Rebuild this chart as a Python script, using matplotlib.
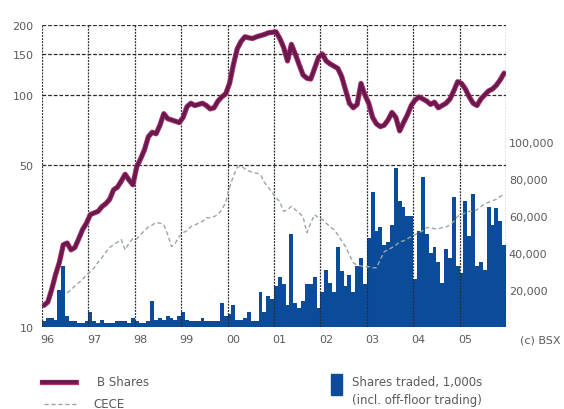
import matplotlib
matplotlib.use("Agg")
import matplotlib.pyplot as plt
import matplotlib.patheffects as pe
from matplotlib.lines import Line2D
from matplotlib.patches import Rectangle
import numpy as np

# monthly data, Jan 1996 .. Dec 2005
b_shares = [
    12.4, 12.8, 14.5, 16.8, 19.0, 22.6, 23.0, 21.5, 22.0, 24.0, 26.3, 28.0,
    30.5, 31.0, 31.5, 33.0, 34.0, 35.5, 39.0, 40.0, 42.5, 45.5, 43.0, 41.0,
    49, 53, 58, 66, 69, 68, 74, 83, 79, 78, 77, 76,
    80, 89, 92, 90, 91, 92, 90, 87, 88, 94, 98, 101,
    112, 135, 158, 170, 178, 176, 175, 178, 180, 182, 185, 186,
    187, 175, 160, 140, 165, 150, 135, 122, 118, 117, 130, 145,
    150, 140, 136, 133, 130, 120, 105, 92, 88, 91, 112, 100,
    92, 80, 75, 73, 74, 78, 84, 80, 70, 76, 82, 90,
    95, 98, 96, 94, 91, 93, 88, 90, 92, 96, 104, 114,
    112, 106, 98, 92, 90, 96, 100, 104, 106, 110, 116, 124,
]

# index series starts in July 1996
index_start = 6
index_vals = [
    14.0, 14.5, 15.0, 15.5, 16.0, 16.8,
    17.3, 18.0, 19.0, 19.9, 21.0, 22.0, 22.6, 23.2, 23.8, 21.5, 23.0, 24.0,
    24.0, 25.0, 26.0, 27.0, 27.5, 28.2, 28.0, 27.6, 25.0, 22.2, 23.0, 24.5,
    25.5, 26.0, 27.1, 27.5, 28.0, 28.5, 29.6, 29.5, 29.9, 30.5, 32.0, 34.4,
    40.0, 44.6, 48.8, 49.3, 48.0, 47.0, 46.3, 46.0, 45.4, 42.0, 40.0, 38.0,
    36.0, 34.7, 31.5, 32.0, 33.1, 32.0, 31.0, 29.9, 25.5, 28.0, 30.5, 29.5,
    29.1, 28.0, 27.0, 26.3, 25.0, 23.5, 22.2, 20.5, 18.9, 18.5, 18.3, 18.2,
    18.2, 18.0, 18.0, 19.5, 21.1, 21.5, 22.0, 22.5, 23.3, 23.5, 24.0, 24.5,
    25.0, 25.5, 26.0, 26.8, 26.8, 26.5, 26.5, 26.8, 27.0, 27.5, 28.5, 30.0,
    30.5, 31.0, 31.5, 31.5, 32.0, 33.0, 34.0, 34.4, 35.0, 35.5, 36.5, 37.3,
]

# shares traded, thousands
traded = [
    3, 5, 5, 4, 20, 33, 6, 3, 3, 2, 2, 3,
    8, 3, 2, 4, 2, 2, 2, 3, 3, 3, 2, 5,
    3, 2, 2, 3, 14, 4, 5, 4, 6, 5, 4, 6,
    8, 4, 3, 3, 3, 5, 3, 3, 3, 3, 13, 6,
    7, 12, 4, 4, 5, 8, 3, 3, 19, 8, 17, 15,
    22, 27, 23, 12, 50, 13, 10, 14, 23, 23, 27, 10,
    19, 31, 24, 19, 43, 30, 22, 28, 19, 33, 37, 23,
    48, 73, 52, 54, 44, 46, 55, 86, 68, 65, 60, 60,
    26, 52, 81, 50, 40, 43, 35, 24, 42, 37, 70, 33,
    29, 68, 49, 72, 33, 35, 31, 65, 55, 64, 57, 44,
]

year_labels = ["96", "97", "98", "99", "00", "01", "02", "03", "04", "05"]
left_ticks = [10, 50, 100, 150, 200]
right_ticks = [20000, 40000, 60000, 80000, 100000]

TEXT = "#5a5a5a"
LINE = "#6a1850"
EDGE = "#b0386a"
BAR = "#0b4c9a"
W, H = 564, 410

fig = plt.figure(figsize=(W / 100, H / 100), dpi=100)
ax = fig.add_axes([42 / W, 1 - 328 / H, 464 / W, 302 / H])
ax2 = ax.twinx()
ax.set_zorder(ax2.get_zorder() + 1)
ax.patch.set_visible(False)

months = 1996 + (np.arange(len(b_shares)) + 0.5) / 12

ax2.bar(months, np.array(traded) * 1000, width=1 / 12, color=BAR,
        edgecolor="none", align="center")
ax2.set_ylim(0, 163000)
ax2.set_yticks(right_ticks)
ax2.set_yticklabels([f"{v:,}" for v in right_ticks])

ax.plot(months[index_start:], index_vals, color="#9aa6a6", lw=1.0,
        ls=(0, (3, 2)))
ax.plot(months, b_shares, color=LINE, lw=2.6, solid_capstyle="round",
        path_effects=[pe.Stroke(linewidth=3.8, foreground=EDGE), pe.Normal()])

ax.set_yscale("log")
ax.set_ylim(10, 200)
ax.set_xlim(1996, 2006)
ax.set_yticks(left_ticks)
ax.set_yticklabels([str(v) for v in left_ticks])
ax.yaxis.set_minor_locator(matplotlib.ticker.NullLocator())
ax.set_xticks([])

# grid
for yr in range(1996, 2007):
    ax.axvline(yr, color="#2a2a2a", lw=0.9, ls=(0, (1.5, 1)), zorder=1)
for v in [50, 100, 150, 200]:
    ax.axhline(v, color="#2a2a2a", lw=0.9, ls=(0, (3, 1.5)), zorder=1)

for a in (ax, ax2):
    for s in a.spines.values():
        s.set_visible(False)
ax.tick_params(axis="y", length=0, pad=6, labelsize=8, labelcolor=TEXT)
ax2.tick_params(axis="y", length=0, pad=2, labelsize=8, labelcolor=TEXT)

for i, lab in enumerate(year_labels):
    ax.text(1996 + i + 0.12, -0.04, lab, transform=ax.get_xaxis_transform(),
            ha="center", va="center", fontsize=8, color=TEXT)
ax.text(1.03, -0.04, "(c) BSX", transform=ax.transAxes, ha="left", va="center",
        fontsize=8, color=TEXT)


# legend below the chart
def px(x, y):
    return x / W, 1 - y / H


x0, y0 = px(42, 383)
x1, _ = px(76, 383)
fig.add_artist(Line2D([x0, x1], [y0, y0], color=LINE, lw=2.6,
                      path_effects=[pe.Stroke(linewidth=3.8, foreground=EDGE), pe.Normal()]))
fig.text(*px(97, 383), "B Shares", fontsize=8.5, color=TEXT, va="center")
x0, y0 = px(44, 405)
x1, _ = px(76, 405)
fig.add_artist(Line2D([x0, x1], [y0, y0], color="#9aa6a6", lw=1.0, ls=(0, (3, 2))))
fig.text(*px(93, 405), "CECE", fontsize=8.5, color=TEXT, va="center")

fig.add_artist(Rectangle(px(331, 396), 11 / W, 21 / H, transform=fig.transFigure,
                         color=BAR))
fig.text(*px(352, 383), "Shares traded, 1,000s", fontsize=8.5, color=TEXT, va="center")
fig.text(*px(352, 401), "(incl. off-floor trading)", fontsize=8.5, color=TEXT, va="center")

fig.savefig("out.png", dpi=100)
